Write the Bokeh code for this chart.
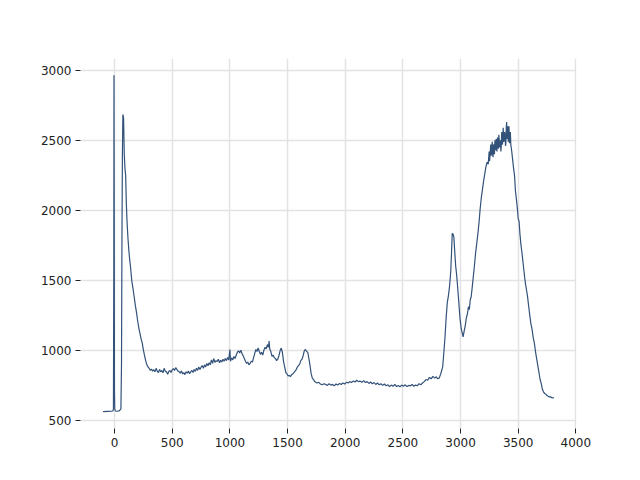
from bokeh.plotting import figure
from bokeh.models import Range1d, FixedTicker
from bokeh.embed import file_html
from bokeh.resources import INLINE

x_vals = [-100, -60, -30, -15, -10, -7, -5, -3, -1, 2, 8, 20, 40, 55, 60, 64, 68, 72, 78, 84, 90, 96,
          102, 108, 116, 124, 132, 140, 150, 160, 170, 180, 190, 200, 210, 220, 230, 240, 250, 260,
          270, 280, 290, 300, 310, 320, 330, 340, 350, 360, 370, 380, 390, 400, 410, 420, 430, 440,
          450, 460, 470, 480, 490, 500, 510, 520, 530, 540, 550, 560, 570, 580, 590, 600, 610, 620,
          630, 640, 650, 660, 670, 680, 690, 700, 710, 720, 730, 740, 750, 760, 770, 780, 790, 800,
          810, 820, 830, 840, 850, 860, 870, 880, 890, 900, 910, 920, 930, 940, 950, 960, 970, 980,
          990, 1000, 1005, 1015, 1025, 1035, 1045, 1055, 1065, 1075, 1085, 1095, 1105, 1115, 1125,
          1135, 1145, 1155, 1165, 1175, 1185, 1195, 1205, 1215, 1225, 1235, 1245, 1255, 1265, 1275,
          1285, 1295, 1305, 1315, 1325, 1335, 1340, 1345, 1355, 1365, 1375, 1385, 1395, 1405, 1415,
          1425, 1435, 1445, 1455, 1465, 1475, 1485, 1495, 1505, 1515, 1525, 1535, 1545, 1555, 1565,
          1575, 1585, 1595, 1605, 1615, 1625, 1635, 1645, 1655, 1665, 1675, 1685, 1695, 1705, 1715,
          1725, 1735, 1745, 1755, 1770, 1785, 1800, 1815, 1830, 1845, 1860, 1875, 1890, 1905, 1920,
          1935, 1950, 1965, 1980, 1995, 2010, 2025, 2040, 2055, 2070, 2085, 2100, 2115, 2130, 2145,
          2160, 2175, 2190, 2205, 2220, 2235, 2250, 2265, 2280, 2295, 2310, 2325, 2340, 2355, 2370,
          2385, 2400, 2415, 2430, 2445, 2460, 2475, 2490, 2505, 2520, 2535, 2550, 2565, 2580, 2595,
          2610, 2625, 2640, 2655, 2670, 2685, 2700, 2715, 2730, 2745, 2760, 2775, 2790, 2800, 2815,
          2830, 2845, 2855, 2865, 2875, 2885, 2895, 2905, 2915, 2922, 2928, 2935, 2942, 2950, 2958,
          2966, 2975, 2985, 2995, 3005, 3015, 3022, 3030, 3040, 3050, 3060, 3068, 3076, 3084, 3092,
          3100, 3110, 3120, 3130, 3140, 3150, 3160, 3170, 3180, 3190, 3200, 3210, 3220, 3230, 3240,
          3248, 3252, 3256, 3262, 3266, 3270, 3275, 3278, 3282, 3286, 3290, 3294, 3298, 3302, 3305,
          3309, 3312, 3316, 3320, 3324, 3328, 3332, 3335, 3339, 3342, 3346, 3350, 3354, 3357, 3361,
          3364, 3367, 3370, 3374, 3378, 3382, 3386, 3390, 3393, 3397, 3400, 3404, 3407, 3411, 3414,
          3417, 3420, 3424, 3428, 3432, 3436, 3444, 3452, 3460, 3468, 3476, 3484, 3492, 3500, 3508,
          3515, 3523, 3532, 3540, 3548, 3556, 3564, 3572, 3580, 3590, 3600, 3610, 3620, 3630, 3640,
          3650, 3660, 3670, 3680, 3690, 3700, 3710, 3720, 3730, 3740, 3750, 3760, 3770, 3780, 3790,
          3800, 3810]

y_vals = [560, 562, 563, 565, 580, 1500, 2965, 2000, 700, 575, 565, 563, 566, 580, 900, 1800, 2400,
          2685, 2660, 2400, 2300, 2250, 2050, 1920, 1800, 1710, 1640, 1580, 1490, 1440, 1380, 1320,
          1270, 1210, 1160, 1120, 1080, 1050, 1000, 960, 925, 895, 880, 870, 855, 865, 850, 860, 845,
          870, 850, 840, 862, 845, 855, 838, 870, 850, 845, 828, 848, 855, 840, 860, 868, 855, 875,
          862, 850, 845, 835, 852, 830, 840, 825, 845, 835, 850, 832, 845, 855, 840, 862, 848, 870,
          855, 880, 862, 878, 890, 870, 895, 880, 905, 888, 910, 895, 930, 905, 940, 912, 925, 918,
          935, 910, 928, 915, 935, 920, 940, 925, 948, 930, 1005, 920, 945, 930, 955, 940, 965, 985,
          995, 980, 1000, 975, 960, 940, 920, 905, 915, 895, 905, 920, 915, 945, 975, 1005, 990,
          1015, 990, 970, 985, 965, 1000, 1020, 1010, 1040, 1020, 1065, 1010, 990, 955, 965, 945,
          940, 925, 935, 960, 995, 1015, 985, 920, 880, 840, 830, 815, 820, 810, 825, 830, 840, 850,
          860, 880, 890, 900, 925, 935, 960, 995, 1005, 990, 985, 940, 890, 830, 800, 790, 775, 770,
          765, 770, 758, 752, 760, 755, 748, 760, 750, 755, 745, 758, 750, 762, 755, 765, 758, 770,
          765, 775, 768, 780, 772, 785, 775, 778, 770, 782, 768, 775, 762, 772, 760, 768, 755, 765,
          752, 760, 748, 758, 745, 752, 740, 750, 742, 755, 740, 748, 738, 750, 742, 752, 740, 748,
          745, 755, 742, 750, 745, 760, 752, 765, 775, 790, 785, 805, 795, 812, 800, 810, 795, 800,
          835, 880, 980, 1090, 1230, 1340, 1390, 1460, 1560, 1700, 1835, 1830, 1810, 1700, 1600,
          1540, 1450, 1340, 1230, 1160, 1120, 1095, 1130, 1170, 1230, 1260, 1310, 1290, 1360, 1380,
          1440, 1520, 1600, 1690, 1760, 1830, 1910, 2010, 2090, 2150, 2210, 2260, 2310, 2345, 2330,
          2420, 2350, 2400, 2470, 2390, 2440, 2490, 2400, 2380, 2470, 2460, 2400, 2500, 2450, 2430,
          2510, 2480, 2420, 2520, 2470, 2440, 2540, 2510, 2450, 2460, 2500, 2420, 2470, 2560, 2480,
          2470, 2540, 2590, 2490, 2500, 2560, 2540, 2460, 2480, 2600, 2630, 2510, 2560, 2600, 2490,
          2530, 2600, 2480, 2520, 2560, 2470, 2420, 2360, 2300, 2250, 2140, 2080, 2020, 1940, 1920,
          1830, 1760, 1700, 1640, 1580, 1520, 1470, 1430, 1390, 1320, 1250, 1190, 1150, 1090, 1050,
          990, 940, 890, 840, 790, 760, 720, 700, 690, 685, 675, 670, 665, 668, 660, 658, 662]

x_ticks = [0, 500, 1000, 1500, 2000, 2500, 3000, 3500, 4000]
y_ticks = [500, 1000, 1500, 2000, 2500, 3000]

xmin, xmax = min(x_vals), max(x_vals)
ymin, ymax = min(y_vals), max(y_vals)
xpad = (xmax - xmin) * 0.05
ypad = (ymax - ymin) * 0.05

p = figure(width=632, height=472, output_backend="svg", toolbar_location=None,
           x_range=Range1d(xmin - xpad, xmax + xpad), y_range=Range1d(ymin - ypad, ymax + ypad),
           min_border_left=80, min_border_right=56, min_border_top=58, min_border_bottom=44)
p.outline_line_color = None
p.background_fill_color = "white"
p.border_fill_color = "white"

p.line(x_vals, y_vals, line_color="#33527a", line_width=1.2)

for ax in (p.xaxis, p.yaxis):
    ax.axis_line_color = None
    ax.major_tick_line_color = "#222222"
    ax.major_tick_out = 5
    ax.major_tick_in = 0
    ax.minor_tick_line_color = None
    ax.major_label_text_font = "DejaVu Sans"
    ax.major_label_text_font_size = "12px"
    ax.major_label_text_color = "#222222"
    ax.major_label_standoff = 4

p.xaxis.ticker = FixedTicker(ticks=x_ticks)
p.yaxis.ticker = FixedTicker(ticks=y_ticks)

p.xgrid.ticker = FixedTicker(ticks=x_ticks)
p.ygrid.ticker = FixedTicker(ticks=y_ticks)
p.grid.grid_line_color = "#e3e3e3"
p.grid.grid_line_width = 1.5

open("out.html", "w").write(file_html(p, INLINE))
